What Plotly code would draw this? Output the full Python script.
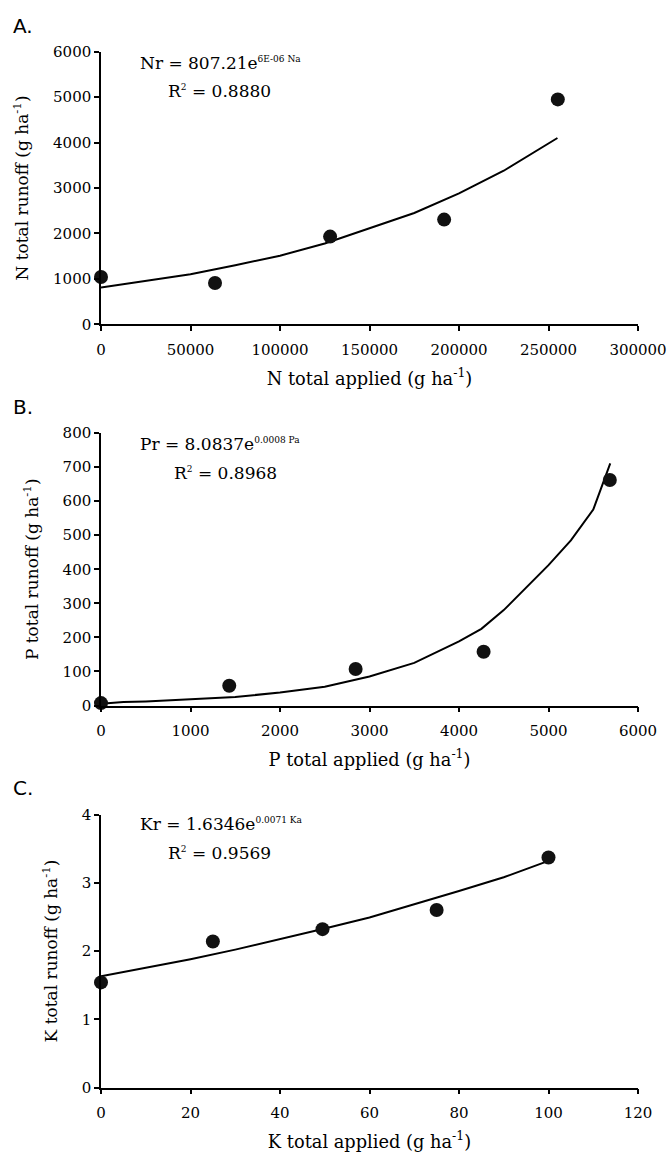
import plotly.graph_objects as go

# ---- data ----
n_applied = [0, 63700, 128000, 191700, 255200]
n_runoff = [1040, 910, 1930, 2305, 4950]
n_trend_x = [0, 25000, 50000, 75000, 100000, 125000, 150000, 175000, 200000, 225000, 255000]
n_trend_y = [810, 950, 1100, 1300, 1510, 1780, 2110, 2450, 2880, 3380, 4100]

p_applied = [0, 1433, 2845, 4275, 5685]
p_runoff = [7, 58, 107, 158, 662]
p_trend_x = [0, 250, 500, 1000, 1500, 2000, 2500, 3000, 3500, 4000, 4250, 4500, 5000, 5250, 5500, 5690]
p_trend_y = [5, 10, 12, 18, 25, 38, 55, 85, 125, 188, 225, 280, 412, 485, 575, 711]

k_applied = [0, 25, 49.5, 75, 100]
k_runoff = [1.54, 2.14, 2.32, 2.60, 3.37]
k_trend_x = [0, 10, 20, 30, 40, 50, 60, 70, 80, 90, 96, 100]
k_trend_y = [1.63, 1.75, 1.88, 2.02, 2.17, 2.33, 2.49, 2.68, 2.88, 3.08, 3.22, 3.32]

W, H = 671, 1153


def px_x(v):
    return v / W


def px_y(v):
    return 1 - v / H


panels = [
    dict(label="A.", x=n_applied, y=n_runoff, tx=n_trend_x, ty=n_trend_y,
         xr=[0, 300000], xd=50000, yr=[0, 6000], yd=1000,
         xt="N total applied (g ha<sup>-1</sup>)", yt="N total runoff (g ha<sup>-1</sup>)",
         eq="Nr = 807.21e<sup><span style='font-size:9px'>6E-06 Na</span></sup>",
         r2="R<sup><span style='font-size:9px'>2</span></sup> = 0.8880",
         top=51.7, bot=324.3, lab=26, eq_pos=(138, 63, 166, 91.5)),
    dict(label="B.", x=p_applied, y=p_runoff, tx=p_trend_x, ty=p_trend_y,
         xr=[0, 6000], xd=1000, yr=[0, 800], yd=100,
         xt="P total applied (g ha<sup>-1</sup>)", yt="P total runoff (g ha<sup>-1</sup>)",
         eq="Pr = 8.0837e<sup><span style='font-size:9px'>0.0008 Pa</span></sup>",
         r2="R<sup><span style='font-size:9px'>2</span></sup> = 0.8968",
         top=433, bot=705.5, lab=407, eq_pos=(138, 444, 172, 473)),
    dict(label="C.", x=k_applied, y=k_runoff, tx=k_trend_x, ty=k_trend_y,
         xr=[0, 120], xd=20, yr=[0, 4], yd=1,
         xt="K total applied (g ha<sup>-1</sup>)", yt="K total runoff (g ha<sup>-1</sup>)",
         eq="Kr = 1.6346e<sup><span style='font-size:9px'>0.0071 Ka</span></sup>",
         r2="R<sup><span style='font-size:9px'>2</span></sup> = 0.9569",
         top=814.5, bot=1087.5, lab=788, eq_pos=(138, 824, 166, 853)),
]

FONT = "DejaVu Serif, serif"
LABEL_FONT = "DejaVu Sans, sans-serif"
fig = go.Figure()
layout = dict(width=W, height=H, margin=dict(l=0, r=0, t=0, b=0, autoexpand=False),
              paper_bgcolor="white", plot_bgcolor="white", showlegend=False,
              font=dict(family=FONT, color="black", size=15))
annotations = []
xdom = [px_x(101), px_x(638)]
for i, p in enumerate(panels):
    n = "" if i == 0 else str(i + 1)
    xa, ya = "x" + n, "y" + n
    fig.add_trace(go.Scatter(x=p["tx"], y=p["ty"], mode="lines",
                             line=dict(color="black", width=2),
                             xaxis=xa, yaxis=ya, cliponaxis=False, hoverinfo="skip"))
    fig.add_trace(go.Scatter(x=p["x"], y=p["y"], mode="markers",
                             marker=dict(color="#111111", size=14, symbol="circle"),
                             xaxis=xa, yaxis=ya, cliponaxis=False))
    common = dict(showline=True, linecolor="black", linewidth=1.5, ticks="outside",
                  ticklen=5, tickwidth=1.5, tickcolor="black", showgrid=False,
                  zeroline=False, tickformat="d", automargin=False,
                  tickfont=dict(family=FONT, size=15))
    layout["xaxis" + n] = dict(common, domain=xdom, range=p["xr"], dtick=p["xd"],
                               anchor=ya, ticklabelstandoff=6,
                               title=dict(text=p["xt"], font=dict(family=FONT, size=17.8), standoff=14))
    layout["yaxis" + n] = dict(common, domain=[px_y(p["bot"]), px_y(p["top"])], range=p["yr"], dtick=p["yd"],
                               anchor=xa,
                               title=dict(text=p["yt"], font=dict(family=FONT, size=17), standoff=20))
    annotations.append(dict(text=p["label"], x=px_x(11), y=px_y(p["lab"]),
                            xref="paper", yref="paper", xanchor="left", yanchor="middle",
                            showarrow=False, font=dict(family=LABEL_FONT, size=20)))
    ex, ey, rx, ry = p["eq_pos"]
    annotations.append(dict(text=p["eq"], x=px_x(ex), y=px_y(ey), xref="paper", yref="paper",
                            xanchor="left", yanchor="middle", showarrow=False,
                            font=dict(family=FONT, size=17)))
    annotations.append(dict(text=p["r2"], x=px_x(rx), y=px_y(ry), xref="paper", yref="paper",
                            xanchor="left", yanchor="middle", showarrow=False,
                            font=dict(family=FONT, size=17)))
layout["annotations"] = annotations
fig.update_layout(**layout)
fig.write_html("out.html", config={"displayModeBar": False},
               post_script="document.body.style.margin='0';document.body.style.overflow='hidden';")
